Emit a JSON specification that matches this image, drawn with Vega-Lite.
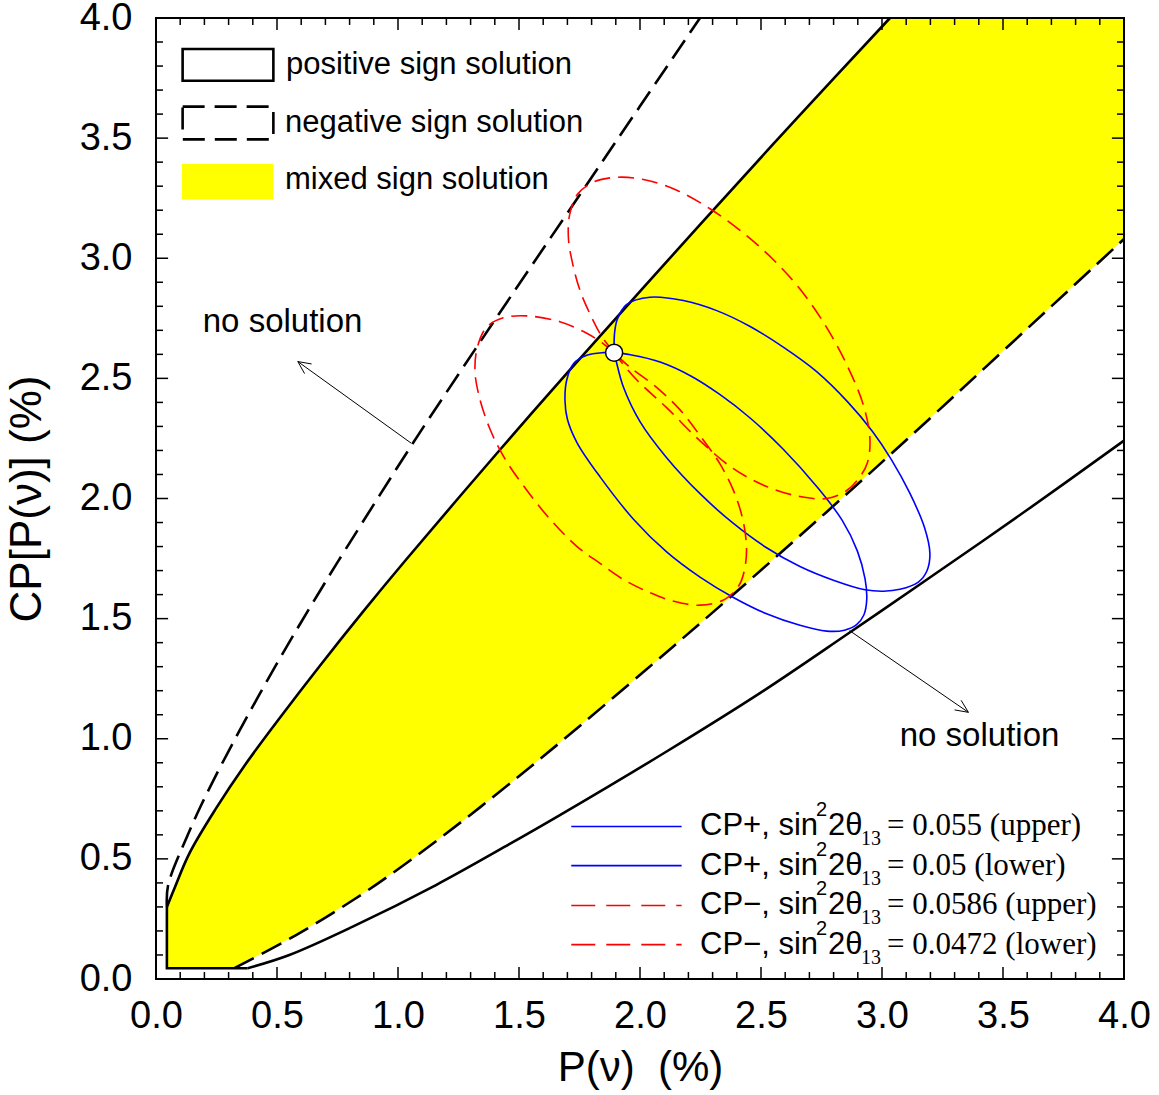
{
  "$schema": "https://vega.github.io/schema/vega-lite/v6.json",
  "width": 968,
  "height": 961,
  "autosize": "none",
  "padding": {"left": 156, "top": 18, "right": 35, "bottom": 116},
  "background": "white",
  "config": {
    "view": {"stroke": null},
    "axis": {
      "grid": false, "domain": false, "ticks": false,
      "labelFont": "Liberation Sans", "labelFontSize": 38, "labelColor": "black",
      "titleFont": "Liberation Sans", "titleFontSize": 42, "titleFontWeight": "normal", "titleColor": "black"
    }
  },
  "datasets": {
    "majors": [{"v": 0}, {"v": 0.5}, {"v": 1}, {"v": 1.5}, {"v": 2}, {"v": 2.5}, {"v": 3}, {"v": 3.5}, {"v": 4}],
    "minors": [{"v": 0.1}, {"v": 0.2}, {"v": 0.3}, {"v": 0.4}, {"v": 0.6}, {"v": 0.7}, {"v": 0.8}, {"v": 0.9},
               {"v": 1.1}, {"v": 1.2}, {"v": 1.3}, {"v": 1.4}, {"v": 1.6}, {"v": 1.7}, {"v": 1.8}, {"v": 1.9},
               {"v": 2.1}, {"v": 2.2}, {"v": 2.3}, {"v": 2.4}, {"v": 2.6}, {"v": 2.7}, {"v": 2.8}, {"v": 2.9},
               {"v": 3.1}, {"v": 3.2}, {"v": 3.3}, {"v": 3.4}, {"v": 3.6}, {"v": 3.7}, {"v": 3.8}, {"v": 3.9}],
    "band": [
      {"x": 0.045, "lo": 0.045, "hi": 0.30},
      {"x": 0.076, "lo": 0.045, "hi": 0.377},
      {"x": 0.138, "lo": 0.045, "hi": 0.523},
      {"x": 0.248, "lo": 0.045, "hi": 0.71},
      {"x": 0.324, "lo": 0.045, "hi": 0.825},
      {"x": 0.372, "lo": 0.071, "hi": 0.897},
      {"x": 0.523, "lo": 0.153, "hi": 1.102},
      {"x": 0.579, "lo": 0.183, "hi": 1.175},
      {"x": 0.675, "lo": 0.242, "hi": 1.301},
      {"x": 0.826, "lo": 0.336, "hi": 1.492},
      {"x": 0.854, "lo": 0.356, "hi": 1.527},
      {"x": 1.033, "lo": 0.481, "hi": 1.745},
      {"x": 1.047, "lo": 0.491, "hi": 1.762},
      {"x": 1.281, "lo": 0.669, "hi": 2.037},
      {"x": 1.424, "lo": 0.783, "hi": 2.206},
      {"x": 1.501, "lo": 0.845, "hi": 2.294},
      {"x": 1.669, "lo": 0.984, "hi": 2.488},
      {"x": 1.712, "lo": 1.021, "hi": 2.537},
      {"x": 2.026, "lo": 1.288, "hi": 2.890},
      {"x": 2.248, "lo": 1.481, "hi": 3.140},
      {"x": 2.368, "lo": 1.585, "hi": 3.273},
      {"x": 2.647, "lo": 1.833, "hi": 3.581},
      {"x": 2.769, "lo": 1.942, "hi": 3.713},
      {"x": 3.033, "lo": 2.182, "hi": 4.0},
      {"x": 3.123, "lo": 2.264, "hi": 4.0},
      {"x": 4.0, "lo": 3.080, "hi": 4.0}
    ],
    "curves": [
      {"s": "posU", "i": 1, "x": 3.033, "y": 4.0},
      {"s": "posU", "i": 2, "x": 2.647, "y": 3.581},
      {"s": "posU", "i": 3, "x": 2.248, "y": 3.140},
      {"s": "posU", "i": 4, "x": 1.712, "y": 2.537},
      {"s": "posU", "i": 5, "x": 1.424, "y": 2.206},
      {"s": "posU", "i": 6, "x": 1.033, "y": 1.745},
      {"s": "posU", "i": 7, "x": 0.854, "y": 1.527},
      {"s": "posU", "i": 8, "x": 0.675, "y": 1.301},
      {"s": "posU", "i": 9, "x": 0.523, "y": 1.102},
      {"s": "posU", "i": 10, "x": 0.372, "y": 0.897},
      {"s": "posU", "i": 11, "x": 0.248, "y": 0.71},
      {"s": "posU", "i": 12, "x": 0.138, "y": 0.523},
      {"s": "posU", "i": 13, "x": 0.076, "y": 0.377},
      {"s": "posU", "i": 14, "x": 0.045, "y": 0.30},

      {"s": "posB", "i": 1, "x": 0.045, "y": 0.30},
      {"s": "posB", "i": 2, "x": 0.045, "y": 0.045},
      {"s": "posB", "i": 3, "x": 0.379, "y": 0.045},

      {"s": "posL", "i": 1, "x": 0.379, "y": 0.045},
      {"s": "posL", "i": 2, "x": 0.551, "y": 0.100},
      {"s": "posL", "i": 3, "x": 0.813, "y": 0.218},
      {"s": "posL", "i": 4, "x": 1.157, "y": 0.391},
      {"s": "posL", "i": 5, "x": 1.460, "y": 0.561},
      {"s": "posL", "i": 6, "x": 1.669, "y": 0.682},
      {"s": "posL", "i": 7, "x": 2.115, "y": 0.950},
      {"s": "posL", "i": 8, "x": 2.502, "y": 1.194},
      {"s": "posL", "i": 9, "x": 2.859, "y": 1.437},
      {"s": "posL", "i": 10, "x": 3.156, "y": 1.642},
      {"s": "posL", "i": 11, "x": 3.602, "y": 1.954},
      {"s": "posL", "i": 12, "x": 4.0, "y": 2.241},

      {"s": "negU", "i": 1, "x": 0.045, "y": 0.30},
      {"s": "negU", "i": 2, "x": 0.050, "y": 0.39},
      {"s": "negU", "i": 3, "x": 0.131, "y": 0.599},
      {"s": "negU", "i": 4, "x": 0.186, "y": 0.722},
      {"s": "negU", "i": 5, "x": 0.255, "y": 0.862},
      {"s": "negU", "i": 6, "x": 0.324, "y": 0.994},
      {"s": "negU", "i": 7, "x": 0.393, "y": 1.122},
      {"s": "negU", "i": 8, "x": 0.455, "y": 1.234},
      {"s": "negU", "i": 9, "x": 0.530, "y": 1.366},
      {"s": "negU", "i": 10, "x": 0.599, "y": 1.484},
      {"s": "negU", "i": 11, "x": 0.675, "y": 1.611},
      {"s": "negU", "i": 12, "x": 0.751, "y": 1.736},
      {"s": "negU", "i": 13, "x": 1.055, "y": 2.220},
      {"s": "negU", "i": 14, "x": 1.256, "y": 2.526},
      {"s": "negU", "i": 15, "x": 1.417, "y": 2.768},
      {"s": "negU", "i": 16, "x": 1.828, "y": 3.378},
      {"s": "negU", "i": 17, "x": 2.248, "y": 4.0},

      {"s": "negL", "i": 1, "x": 0.324, "y": 0.045},
      {"s": "negL", "i": 2, "x": 0.579, "y": 0.183},
      {"s": "negL", "i": 3, "x": 0.826, "y": 0.336},
      {"s": "negL", "i": 4, "x": 1.047, "y": 0.491},
      {"s": "negL", "i": 5, "x": 1.281, "y": 0.669},
      {"s": "negL", "i": 6, "x": 1.501, "y": 0.845},
      {"s": "negL", "i": 7, "x": 1.669, "y": 0.984},
      {"s": "negL", "i": 8, "x": 2.026, "y": 1.288},
      {"s": "negL", "i": 9, "x": 2.368, "y": 1.585},
      {"s": "negL", "i": 10, "x": 2.769, "y": 1.942},
      {"s": "negL", "i": 11, "x": 3.123, "y": 2.264},
      {"s": "negL", "i": 12, "x": 4.0, "y": 3.080},

      {"s": "A", "i": 1, "x": 1.893, "y": 2.607},
      {"s": "A", "i": 2, "x": 1.895, "y": 2.690},
      {"s": "A", "i": 3, "x": 1.906, "y": 2.745},
      {"s": "A", "i": 4, "x": 1.945, "y": 2.808},
      {"s": "A", "i": 5, "x": 2.041, "y": 2.838},
      {"s": "A", "i": 6, "x": 2.179, "y": 2.824},
      {"s": "A", "i": 7, "x": 2.317, "y": 2.782},
      {"s": "A", "i": 8, "x": 2.455, "y": 2.716},
      {"s": "A", "i": 9, "x": 2.592, "y": 2.630},
      {"s": "A", "i": 10, "x": 2.730, "y": 2.528},
      {"s": "A", "i": 11, "x": 2.860, "y": 2.400},
      {"s": "A", "i": 12, "x": 2.960, "y": 2.280},
      {"s": "A", "i": 13, "x": 3.040, "y": 2.160},
      {"s": "A", "i": 14, "x": 3.116, "y": 2.020},
      {"s": "A", "i": 15, "x": 3.175, "y": 1.881},
      {"s": "A", "i": 16, "x": 3.198, "y": 1.771},
      {"s": "A", "i": 17, "x": 3.185, "y": 1.697},
      {"s": "A", "i": 18, "x": 3.150, "y": 1.652},
      {"s": "A", "i": 19, "x": 3.074, "y": 1.622},
      {"s": "A", "i": 20, "x": 3.006, "y": 1.614},
      {"s": "A", "i": 21, "x": 2.930, "y": 1.620},
      {"s": "A", "i": 22, "x": 2.799, "y": 1.660},
      {"s": "A", "i": 23, "x": 2.661, "y": 1.717},
      {"s": "A", "i": 24, "x": 2.523, "y": 1.795},
      {"s": "A", "i": 25, "x": 2.386, "y": 1.896},
      {"s": "A", "i": 26, "x": 2.248, "y": 2.020},
      {"s": "A", "i": 27, "x": 2.110, "y": 2.170},
      {"s": "A", "i": 28, "x": 2.000, "y": 2.320},
      {"s": "A", "i": 29, "x": 1.931, "y": 2.465},
      {"s": "A", "i": 30, "x": 1.902, "y": 2.570},
      {"s": "A", "i": 31, "x": 1.893, "y": 2.607},

      {"s": "B", "i": 1, "x": 1.893, "y": 2.607},
      {"s": "B", "i": 2, "x": 1.849, "y": 2.607},
      {"s": "B", "i": 3, "x": 1.780, "y": 2.596},
      {"s": "B", "i": 4, "x": 1.725, "y": 2.561},
      {"s": "B", "i": 5, "x": 1.697, "y": 2.492},
      {"s": "B", "i": 6, "x": 1.690, "y": 2.408},
      {"s": "B", "i": 7, "x": 1.700, "y": 2.330},
      {"s": "B", "i": 8, "x": 1.740, "y": 2.232},
      {"s": "B", "i": 9, "x": 1.835, "y": 2.090},
      {"s": "B", "i": 10, "x": 1.972, "y": 1.915},
      {"s": "B", "i": 11, "x": 2.110, "y": 1.778},
      {"s": "B", "i": 12, "x": 2.248, "y": 1.673},
      {"s": "B", "i": 13, "x": 2.386, "y": 1.588},
      {"s": "B", "i": 14, "x": 2.523, "y": 1.520},
      {"s": "B", "i": 15, "x": 2.661, "y": 1.472},
      {"s": "B", "i": 16, "x": 2.771, "y": 1.448},
      {"s": "B", "i": 17, "x": 2.845, "y": 1.452},
      {"s": "B", "i": 18, "x": 2.895, "y": 1.475},
      {"s": "B", "i": 19, "x": 2.925, "y": 1.515},
      {"s": "B", "i": 20, "x": 2.937, "y": 1.580},
      {"s": "B", "i": 21, "x": 2.930, "y": 1.665},
      {"s": "B", "i": 22, "x": 2.898, "y": 1.782},
      {"s": "B", "i": 23, "x": 2.835, "y": 1.910},
      {"s": "B", "i": 24, "x": 2.730, "y": 2.050},
      {"s": "B", "i": 25, "x": 2.592, "y": 2.205},
      {"s": "B", "i": 26, "x": 2.455, "y": 2.335},
      {"s": "B", "i": 27, "x": 2.331, "y": 2.432},
      {"s": "B", "i": 28, "x": 2.210, "y": 2.510},
      {"s": "B", "i": 29, "x": 2.083, "y": 2.568},
      {"s": "B", "i": 30, "x": 1.960, "y": 2.598},
      {"s": "B", "i": 31, "x": 1.893, "y": 2.607},

      {"s": "C", "i": 1, "x": 1.893, "y": 2.607},
      {"s": "C", "i": 2, "x": 1.869, "y": 2.637},
      {"s": "C", "i": 3, "x": 1.835, "y": 2.686},
      {"s": "C", "i": 4, "x": 1.793, "y": 2.769},
      {"s": "C", "i": 5, "x": 1.752, "y": 2.866},
      {"s": "C", "i": 6, "x": 1.720, "y": 2.985},
      {"s": "C", "i": 7, "x": 1.704, "y": 3.088},
      {"s": "C", "i": 8, "x": 1.710, "y": 3.185},
      {"s": "C", "i": 9, "x": 1.743, "y": 3.268},
      {"s": "C", "i": 10, "x": 1.810, "y": 3.318},
      {"s": "C", "i": 11, "x": 1.904, "y": 3.337},
      {"s": "C", "i": 12, "x": 2.014, "y": 3.328},
      {"s": "C", "i": 13, "x": 2.152, "y": 3.283},
      {"s": "C", "i": 14, "x": 2.289, "y": 3.206},
      {"s": "C", "i": 15, "x": 2.427, "y": 3.105},
      {"s": "C", "i": 16, "x": 2.545, "y": 3.000},
      {"s": "C", "i": 17, "x": 2.661, "y": 2.872},
      {"s": "C", "i": 18, "x": 2.771, "y": 2.712},
      {"s": "C", "i": 19, "x": 2.860, "y": 2.545},
      {"s": "C", "i": 20, "x": 2.923, "y": 2.389},
      {"s": "C", "i": 21, "x": 2.950, "y": 2.250},
      {"s": "C", "i": 22, "x": 2.940, "y": 2.150},
      {"s": "C", "i": 23, "x": 2.905, "y": 2.085},
      {"s": "C", "i": 24, "x": 2.850, "y": 2.030},
      {"s": "C", "i": 25, "x": 2.771, "y": 2.000},
      {"s": "C", "i": 26, "x": 2.661, "y": 2.008},
      {"s": "C", "i": 27, "x": 2.523, "y": 2.050},
      {"s": "C", "i": 28, "x": 2.386, "y": 2.124},
      {"s": "C", "i": 29, "x": 2.248, "y": 2.240},
      {"s": "C", "i": 30, "x": 2.110, "y": 2.378},
      {"s": "C", "i": 31, "x": 1.990, "y": 2.490},
      {"s": "C", "i": 32, "x": 1.925, "y": 2.565},
      {"s": "C", "i": 33, "x": 1.893, "y": 2.607},

      {"s": "D", "i": 1, "x": 1.893, "y": 2.607},
      {"s": "D", "i": 2, "x": 1.849, "y": 2.644},
      {"s": "D", "i": 3, "x": 1.780, "y": 2.688},
      {"s": "D", "i": 4, "x": 1.669, "y": 2.736},
      {"s": "D", "i": 5, "x": 1.532, "y": 2.760},
      {"s": "D", "i": 6, "x": 1.435, "y": 2.752},
      {"s": "D", "i": 7, "x": 1.366, "y": 2.713},
      {"s": "D", "i": 8, "x": 1.328, "y": 2.630},
      {"s": "D", "i": 9, "x": 1.318, "y": 2.533},
      {"s": "D", "i": 10, "x": 1.334, "y": 2.430},
      {"s": "D", "i": 11, "x": 1.380, "y": 2.289},
      {"s": "D", "i": 12, "x": 1.442, "y": 2.165},
      {"s": "D", "i": 13, "x": 1.520, "y": 2.051},
      {"s": "D", "i": 14, "x": 1.623, "y": 1.920},
      {"s": "D", "i": 15, "x": 1.740, "y": 1.800},
      {"s": "D", "i": 16, "x": 1.835, "y": 1.730},
      {"s": "D", "i": 17, "x": 1.931, "y": 1.663},
      {"s": "D", "i": 18, "x": 2.041, "y": 1.608},
      {"s": "D", "i": 19, "x": 2.140, "y": 1.572},
      {"s": "D", "i": 20, "x": 2.248, "y": 1.556},
      {"s": "D", "i": 21, "x": 2.350, "y": 1.580},
      {"s": "D", "i": 22, "x": 2.410, "y": 1.640},
      {"s": "D", "i": 23, "x": 2.434, "y": 1.715},
      {"s": "D", "i": 24, "x": 2.440, "y": 1.800},
      {"s": "D", "i": 25, "x": 2.425, "y": 1.912},
      {"s": "D", "i": 26, "x": 2.386, "y": 2.034},
      {"s": "D", "i": 27, "x": 2.328, "y": 2.148},
      {"s": "D", "i": 28, "x": 2.248, "y": 2.262},
      {"s": "D", "i": 29, "x": 2.160, "y": 2.375},
      {"s": "D", "i": 30, "x": 2.060, "y": 2.470},
      {"s": "D", "i": 31, "x": 1.960, "y": 2.545},
      {"s": "D", "i": 32, "x": 1.893, "y": 2.607}
    ],
    "boxes": [
      {"k": "solid", "x1": 0.110, "x2": 0.485, "y1": 3.739, "y2": 3.871},
      {"k": "dash", "x1": 0.110, "x2": 0.485, "y1": 3.495, "y2": 3.631},
      {"k": "fill", "x1": 0.107, "x2": 0.485, "y1": 3.245, "y2": 3.393}
    ],
    "arrows": [
      {"x": 1.055, "y": 2.230, "x2": 0.586, "y2": 2.570},
      {"x": 0.586, "y": 2.570, "x2": 0.614, "y2": 2.520},
      {"x": 0.586, "y": 2.570, "x2": 0.643, "y2": 2.560},
      {"x": 2.866, "y": 1.450, "x2": 3.357, "y2": 1.110},
      {"x": 3.357, "y": 1.110, "x2": 3.327, "y2": 1.160},
      {"x": 3.357, "y": 1.110, "x2": 3.300, "y2": 1.120}
    ],
    "leglines": [
      {"s": "blue", "x1": 1.716, "x2": 2.172, "y": 0.635},
      {"s": "blue", "x1": 1.716, "x2": 2.172, "y": 0.472},
      {"s": "red", "x1": 1.716, "x2": 2.172, "y": 0.306},
      {"s": "red", "x1": 1.716, "x2": 2.172, "y": 0.143}
    ],
    "legtext": [
      {"k": "sans", "x": 2.248, "y": 0.635, "t": "CP+, sin"},
      {"k": "sans", "x": 2.777, "y": 0.635, "t": "2θ"},
      {"k": "sup", "x": 2.727, "y": 0.635, "t": "2"},
      {"k": "sub", "x": 2.913, "y": 0.635, "t": "13"},
      {"k": "serif", "x": 3.021, "y": 0.635, "t": "= 0.055 (upper)"},
      {"k": "sans", "x": 2.248, "y": 0.472, "t": "CP+, sin"},
      {"k": "sans", "x": 2.777, "y": 0.472, "t": "2θ"},
      {"k": "sup", "x": 2.727, "y": 0.472, "t": "2"},
      {"k": "sub", "x": 2.913, "y": 0.472, "t": "13"},
      {"k": "serif", "x": 3.021, "y": 0.472, "t": "= 0.05 (lower)"},
      {"k": "sans", "x": 2.248, "y": 0.306, "t": "CP−, sin"},
      {"k": "sans", "x": 2.777, "y": 0.306, "t": "2θ"},
      {"k": "sup", "x": 2.727, "y": 0.306, "t": "2"},
      {"k": "sub", "x": 2.913, "y": 0.306, "t": "13"},
      {"k": "serif", "x": 3.021, "y": 0.306, "t": "= 0.0586 (upper)"},
      {"k": "sans", "x": 2.248, "y": 0.143, "t": "CP−, sin"},
      {"k": "sans", "x": 2.777, "y": 0.143, "t": "2θ"},
      {"k": "sup", "x": 2.727, "y": 0.143, "t": "2"},
      {"k": "sub", "x": 2.913, "y": 0.143, "t": "13"},
      {"k": "serif", "x": 3.021, "y": 0.143, "t": "= 0.0472 (lower)"}
    ],
    "boxtext": [
      {"x": 0.537, "y": 3.806, "t": "positive sign solution"},
      {"x": 0.533, "y": 3.565, "t": "negative sign solution"},
      {"x": 0.533, "y": 3.324, "t": "mixed sign solution"}
    ],
    "notes": [
      {"x": 0.523, "y": 2.733, "t": "no solution"},
      {"x": 3.403, "y": 1.011, "t": "no solution"}
    ],
    "dot": [{"x": 1.893, "y": 2.607}]
  },
  "layer": [
    {
      "data": {"name": "band"},
      "mark": {"type": "area", "color": "#ffff00", "opacity": 1, "orient": "vertical"},
      "encoding": {
        "x": {"field": "x", "type": "quantitative",
          "scale": {"domain": [0, 4], "nice": false, "zero": false},
          "axis": {
            "orient": "bottom", "ticks": false,
            "values": [0,0.5,1,1.5,2,2.5,3,3.5,4],
            "format": ".1f",
            "labelPadding": 18, "labelFlush": false, "labelOverlap": false,
            "title": "P(ν)\u00a0\u00a0(%)", "titlePadding": 12
          }
        },
        "y": {"field": "lo", "type": "quantitative",
          "scale": {"domain": [0, 4], "nice": false, "zero": false},
          "axis": {
            "orient": "left", "ticks": false,
            "values": [0,0.5,1,1.5,2,2.5,3,3.5,4],
            "format": ".1f",
            "labelPadding": 24, "labelFlush": false, "labelOverlap": false,
            "title": "CP[P(ν)] (%)", "titlePadding": 30, "titleFontSize": 44
          }
        },
        "y2": {"field": "hi"}
      }
    },
    {
      "data": {"name": "majors"},
      "mark": {"type": "rule", "color": "#000000", "strokeWidth": 1.5, "opacity": 1},
      "encoding": {"x": {"field": "v", "type": "quantitative"}, "y": {"datum": 0, "type": "quantitative"}, "y2": {"datum": 0.05}}
    },
    {
      "data": {"name": "majors"},
      "mark": {"type": "rule", "color": "#000000", "strokeWidth": 1.5, "opacity": 1},
      "encoding": {"x": {"field": "v", "type": "quantitative"}, "y": {"datum": 4, "type": "quantitative"}, "y2": {"datum": 3.95}}
    },
    {
      "data": {"name": "majors"},
      "mark": {"type": "rule", "color": "#000000", "strokeWidth": 1.5, "opacity": 1},
      "encoding": {"y": {"field": "v", "type": "quantitative"}, "x": {"datum": 0, "type": "quantitative"}, "x2": {"datum": 0.05}}
    },
    {
      "data": {"name": "majors"},
      "mark": {"type": "rule", "color": "#000000", "strokeWidth": 1.5, "opacity": 1},
      "encoding": {"y": {"field": "v", "type": "quantitative"}, "x": {"datum": 4, "type": "quantitative"}, "x2": {"datum": 3.95}}
    },
    {
      "data": {"name": "minors"},
      "mark": {"type": "rule", "color": "#000000", "strokeWidth": 1.5, "opacity": 1},
      "encoding": {"x": {"field": "v", "type": "quantitative"}, "y": {"datum": 0, "type": "quantitative"}, "y2": {"datum": 0.029}}
    },
    {
      "data": {"name": "minors"},
      "mark": {"type": "rule", "color": "#000000", "strokeWidth": 1.5, "opacity": 1},
      "encoding": {"x": {"field": "v", "type": "quantitative"}, "y": {"datum": 4, "type": "quantitative"}, "y2": {"datum": 3.971}}
    },
    {
      "data": {"name": "minors"},
      "mark": {"type": "rule", "color": "#000000", "strokeWidth": 1.5, "opacity": 1},
      "encoding": {"y": {"field": "v", "type": "quantitative"}, "x": {"datum": 0, "type": "quantitative"}, "x2": {"datum": 0.029}}
    },
    {
      "data": {"name": "minors"},
      "mark": {"type": "rule", "color": "#000000", "strokeWidth": 1.5, "opacity": 1},
      "encoding": {"y": {"field": "v", "type": "quantitative"}, "x": {"datum": 4, "type": "quantitative"}, "x2": {"datum": 3.971}}
    },
    {
      "data": {"name": "curves"},
      "transform": [{"filter": "datum.s === 'posU' || datum.s === 'posL'"}],
      "mark": {"type": "line", "color": "black", "strokeWidth": 2.6, "interpolate": "catmull-rom"},
      "encoding": {
        "x": {"field": "x", "type": "quantitative"},
        "y": {"field": "y", "type": "quantitative"},
        "detail": {"field": "s"},
        "order": {"field": "i", "type": "quantitative"}
      }
    },
    {
      "data": {"name": "curves"},
      "transform": [{"filter": "datum.s === 'posB'"}],
      "mark": {"type": "line", "color": "black", "strokeWidth": 2.6, "strokeJoin": "miter"},
      "encoding": {
        "x": {"field": "x", "type": "quantitative"},
        "y": {"field": "y", "type": "quantitative"},
        "order": {"field": "i", "type": "quantitative"}
      }
    },
    {
      "data": {"name": "curves"},
      "transform": [{"filter": "datum.s === 'negU' || datum.s === 'negL'"}],
      "mark": {"type": "line", "color": "black", "strokeWidth": 2.6, "strokeDash": [22, 9], "interpolate": "catmull-rom"},
      "encoding": {
        "x": {"field": "x", "type": "quantitative"},
        "y": {"field": "y", "type": "quantitative"},
        "detail": {"field": "s"},
        "order": {"field": "i", "type": "quantitative"}
      }
    },
    {
      "data": {"name": "curves"},
      "transform": [{"filter": "datum.s === 'A' || datum.s === 'B'"}],
      "mark": {"type": "line", "color": "#0000ff", "strokeWidth": 1.6, "interpolate": "catmull-rom"},
      "encoding": {
        "x": {"field": "x", "type": "quantitative"},
        "y": {"field": "y", "type": "quantitative"},
        "detail": {"field": "s"},
        "order": {"field": "i", "type": "quantitative"}
      }
    },
    {
      "data": {"name": "curves"},
      "transform": [{"filter": "datum.s === 'C' || datum.s === 'D'"}],
      "mark": {"type": "line", "color": "#ff0000", "strokeWidth": 1.6, "strokeDash": [16, 8], "interpolate": "catmull-rom"},
      "encoding": {
        "x": {"field": "x", "type": "quantitative"},
        "y": {"field": "y", "type": "quantitative"},
        "detail": {"field": "s"},
        "order": {"field": "i", "type": "quantitative"}
      }
    },
    {
      "data": {"name": "arrows"},
      "mark": {"type": "rule", "color": "black", "strokeWidth": 1},
      "encoding": {
        "x": {"field": "x", "type": "quantitative"},
        "y": {"field": "y", "type": "quantitative"},
        "x2": {"field": "x2"},
        "y2": {"field": "y2"}
      }
    },
    {
      "data": {"name": "boxes"},
      "transform": [{"filter": "datum.k === 'fill'"}],
      "mark": {"type": "rect", "color": "#ffff00", "opacity": 1},
      "encoding": {
        "x": {"field": "x1", "type": "quantitative"},
        "x2": {"field": "x2"},
        "y": {"field": "y1", "type": "quantitative"},
        "y2": {"field": "y2"}
      }
    },
    {
      "data": {"name": "boxes"},
      "transform": [{"filter": "datum.k === 'solid'"}],
      "mark": {"type": "rect", "filled": false, "stroke": "black", "strokeWidth": 2.6, "opacity": 1},
      "encoding": {
        "x": {"field": "x1", "type": "quantitative"},
        "x2": {"field": "x2"},
        "y": {"field": "y1", "type": "quantitative"},
        "y2": {"field": "y2"}
      }
    },
    {
      "data": {"name": "boxes"},
      "transform": [{"filter": "datum.k === 'dash'"}],
      "mark": {"type": "rect", "filled": false, "stroke": "black", "strokeWidth": 2.6, "strokeDash": [22, 10], "opacity": 1},
      "encoding": {
        "x": {"field": "x1", "type": "quantitative"},
        "x2": {"field": "x2"},
        "y": {"field": "y1", "type": "quantitative"},
        "y2": {"field": "y2"}
      }
    },
    {
      "data": {"name": "leglines"},
      "transform": [{"filter": "datum.s === 'blue'"}],
      "mark": {"type": "rule", "color": "#0000ff", "strokeWidth": 1.6},
      "encoding": {
        "x": {"field": "x1", "type": "quantitative"},
        "x2": {"field": "x2"},
        "y": {"field": "y", "type": "quantitative"}
      }
    },
    {
      "data": {"name": "leglines"},
      "transform": [{"filter": "datum.s === 'red'"}],
      "mark": {"type": "rule", "color": "#ff0000", "strokeWidth": 1.6, "strokeDash": [24, 11]},
      "encoding": {
        "x": {"field": "x1", "type": "quantitative"},
        "x2": {"field": "x2"},
        "y": {"field": "y", "type": "quantitative"}
      }
    },
    {
      "data": {"name": "legtext"},
      "transform": [{"filter": "datum.k === 'sans'"}],
      "mark": {"type": "text", "font": "Liberation Sans", "fontSize": 31, "align": "left", "baseline": "middle", "color": "black"},
      "encoding": {
        "x": {"field": "x", "type": "quantitative"},
        "y": {"field": "y", "type": "quantitative"},
        "text": {"field": "t"}
      }
    },
    {
      "data": {"name": "legtext"},
      "transform": [{"filter": "datum.k === 'sup'"}],
      "mark": {"type": "text", "font": "Liberation Sans", "fontSize": 20, "align": "left", "baseline": "middle", "dy": -16, "color": "black"},
      "encoding": {
        "x": {"field": "x", "type": "quantitative"},
        "y": {"field": "y", "type": "quantitative"},
        "text": {"field": "t"}
      }
    },
    {
      "data": {"name": "legtext"},
      "transform": [{"filter": "datum.k === 'sub'"}],
      "mark": {"type": "text", "font": "Liberation Serif", "fontSize": 20, "align": "left", "baseline": "middle", "dy": 13, "color": "black"},
      "encoding": {
        "x": {"field": "x", "type": "quantitative"},
        "y": {"field": "y", "type": "quantitative"},
        "text": {"field": "t"}
      }
    },
    {
      "data": {"name": "legtext"},
      "transform": [{"filter": "datum.k === 'serif'"}],
      "mark": {"type": "text", "font": "Liberation Serif", "fontSize": 31, "align": "left", "baseline": "middle", "color": "black"},
      "encoding": {
        "x": {"field": "x", "type": "quantitative"},
        "y": {"field": "y", "type": "quantitative"},
        "text": {"field": "t"}
      }
    },
    {
      "data": {"name": "boxtext"},
      "mark": {"type": "text", "font": "Liberation Sans", "fontSize": 31, "align": "left", "baseline": "middle", "color": "black"},
      "encoding": {
        "x": {"field": "x", "type": "quantitative"},
        "y": {"field": "y", "type": "quantitative"},
        "text": {"field": "t"}
      }
    },
    {
      "data": {"name": "notes"},
      "mark": {"type": "text", "font": "Liberation Sans", "fontSize": 33, "align": "center", "baseline": "middle", "color": "black"},
      "encoding": {
        "x": {"field": "x", "type": "quantitative"},
        "y": {"field": "y", "type": "quantitative"},
        "text": {"field": "t"}
      }
    },
    {
      "data": {"name": "dot"},
      "mark": {"type": "point", "shape": "circle", "filled": true, "fill": "white", "stroke": "black", "strokeWidth": 1.5, "size": 290, "opacity": 1},
      "encoding": {
        "x": {"field": "x", "type": "quantitative"},
        "y": {"field": "y", "type": "quantitative"}
      }
    },
    {
      "data": {"values": [{}]},
      "mark": {"type": "rect", "filled": false, "stroke": "black", "strokeWidth": 2, "opacity": 1},
      "encoding": {
        "x": {"datum": 0, "type": "quantitative"},
        "x2": {"datum": 4},
        "y": {"datum": 0, "type": "quantitative"},
        "y2": {"datum": 4}
      }
    }
  ]
}
